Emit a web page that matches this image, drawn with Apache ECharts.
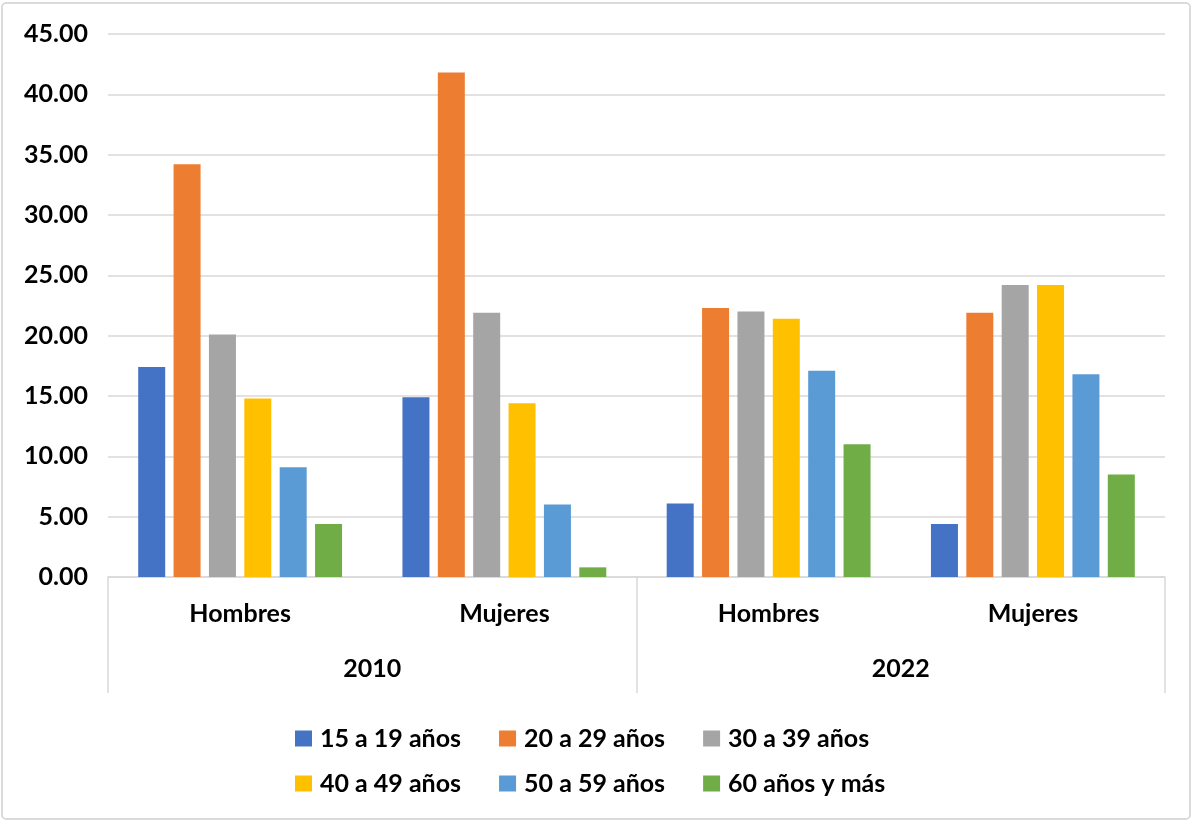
<!DOCTYPE html>
<html>
<head>
<meta charset="utf-8">
<script src="https://cdn.jsdelivr.net/npm/echarts@6/dist/echarts.min.js"></script>
<style>
html,body{margin:0;padding:0;background:#fff;}
#c{width:1195px;height:824px;}
</style>
</head>
<body>
<div id="c"></div>
<script>
const categories = ['Hombres', 'Mujeres', 'Hombres', 'Mujeres'];
const years = ['2010', '2022'];
const seriesNames = ['15 a 19 años', '20 a 29 años', '30 a 39 años', '40 a 49 años', '50 a 59 años', '60 años y más'];
const v15_19 = [17.4, 14.9, 6.1, 4.4];
const v20_29 = [34.2, 41.8, 22.3, 21.9];
const v30_39 = [20.1, 21.9, 22.0, 24.2];
const v40_49 = [14.8, 14.4, 21.4, 24.2];
const v50_59 = [9.1, 6.0, 17.1, 16.8];
const v60 = [4.4, 0.8, 11.0, 8.5];
const yTicks = { min: 0, max: 45, interval: 5 };

const colors = ['#4472C4', '#ED7D31', '#A5A5A5', '#FFC000', '#5B9BD5', '#70AD47'];
const values = [v15_19, v20_29, v30_39, v40_49, v50_59, v60];
const FONT = 'Lato';

const chart = echarts.init(document.getElementById('c'), null, { renderer: 'canvas' });
const series = values.map((d, i) => ({
  name: seriesNames[i],
  type: 'bar',
  xAxisIndex: 0,
  data: d,
  barWidth: 27,
  barGap: '31%',
  itemStyle: { color: colors[i] },
  emphasis: { disabled: true }
}));

const legendCommon = {
  left: 290,
  itemWidth: 17,
  itemHeight: 16,
  itemGap: 38,
  icon: 'rect',
  textStyle: { fontFamily: FONT, fontWeight: 'bold', fontSize: 25, color: '#000', padding: [0, 0, 0, 3] },
  selectedMode: false
};

chart.setOption({
  animation: false,
  backgroundColor: '#fff',
  color: colors,
  grid: { left: 108, right: 30, top: 34, bottom: 247, containLabel: false },
  legend: [
    Object.assign({}, legendCommon, { top: 721, data: seriesNames.slice(0, 3) }),
    Object.assign({}, legendCommon, { top: 766, data: seriesNames.slice(3, 6) })
  ],
  xAxis: [
    {
      type: 'category',
      data: categories,
      axisLine: { show: true, lineStyle: { color: '#d9d9d9', width: 1.5 } },
      axisTick: { show: false },
      axisLabel: { margin: 24, fontFamily: FONT, fontWeight: 'bold', fontSize: 25, color: '#000' }
    },
    {
      type: 'category',
      data: years,
      position: 'bottom',
      axisLine: { show: false },
      axisTick: { show: true, length: 116, lineStyle: { color: '#d9d9d9', width: 1.5 } },
      axisLabel: { margin: 79, fontFamily: FONT, fontWeight: 'bold', fontSize: 25, color: '#000' },
      splitLine: { show: false }
    }
  ],
  yAxis: {
    type: 'value',
    min: yTicks.min,
    max: yTicks.max,
    interval: yTicks.interval,
    axisLine: { show: false },
    axisTick: { show: false },
    splitLine: { lineStyle: { color: '#d9d9d9', width: 1.5 } },
    axisLabel: {
      margin: 20,
      fontFamily: FONT, fontWeight: 'bold', fontSize: 25, color: '#000',
      formatter: v => v.toFixed(2)
    }
  },
  graphic: [{
    type: 'rect',
    shape: { x: 2, y: 3, width: 1188, height: 816, r: 4 },
    style: { fill: 'none', stroke: '#d0d0d0', lineWidth: 1.5 },
    silent: true,
    z: 100
  }],
  series: series
});
</script>
</body>
</html>
